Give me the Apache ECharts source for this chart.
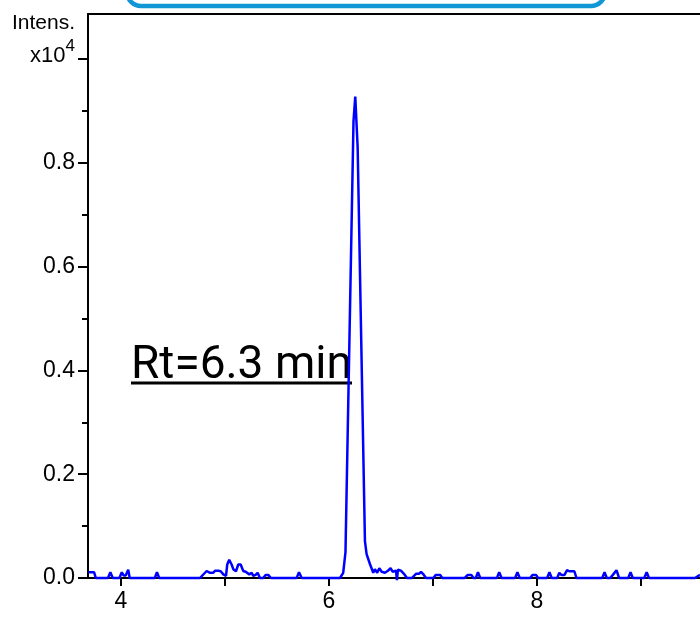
<!DOCTYPE html>
<html><head><meta charset="utf-8">
<script src="https://cdn.jsdelivr.net/npm/echarts@6/dist/echarts.min.js"></script>
<style>html,body{margin:0;padding:0;background:#fff}#c{width:700px;height:617px}</style>
</head><body><div id="c"></div>
<script>
// Retention time (min)
const retentionTime = [3.687,3.742,3.758,3.875,3.898,3.921,3.985,4.008,4.025,4.045,4.07,4.084,4.325,4.346,4.368,
4.760,4.824,4.839,4.856,4.872,4.888,4.904,4.936,4.959,4.984,5.010,5.022,5.041,5.064,5.080,5.106,5.128,5.151,5.176,
5.199,5.214,5.234,5.257,5.272,5.295,5.314,5.337,5.368,5.391,5.416,5.442,5.689,5.712,5.738,
6.106,6.137,6.159,6.236,6.253,6.276,6.346,6.362,6.394,6.426,6.442,6.464,6.484,6.507,6.538,6.567,6.593,6.612,6.625,
6.644,6.654,6.663,6.692,6.721,6.750,6.798,6.837,6.865,6.885,6.904,6.933,7.004,7.026,7.069,7.090,7.305,7.335,7.369,
7.390,7.412,7.433,7.455,7.615,7.637,7.660,7.790,7.812,7.835,7.935,7.957,7.991,8.012,8.098,8.120,8.142,8.195,8.215,
8.235,8.265,8.290,8.310,8.360,8.380,8.628,8.650,8.672,8.705,8.730,8.765,8.790,8.878,8.900,8.922,9.032,9.055,9.078,
9.520,9.568];
// Intensity (x10^4)
const intensity = [0.011,0.011,0,0,0.011,0,0,0.011,0.005,0.005,0.016,0,0,0.011,0,
0,0.0135,0.017,0.010,0.013,0.010,0.014,0.014,0.013,0.007,0.004,0.026,0.035,0.026,0.017,0.013,0.026,0.026,0.0135,
0.012,0.0135,0.007,0.010,0.004,0.006,0.010,0,0,0.006,0.006,0,0,0.011,0,
0,0.010,0.050,0.880,0.928,0.830,0.071,0.046,0.027,0.010,0.017,0.010,0.019,0.012,0.010,0.014,0.019,0.012,0.010,
0.014,-0.004,0.016,0.014,0.008,0,0,0.008,0.008,0.012,0.008,0,0,0.006,0.006,0,0,0.006,0.006,
0,0,0.011,0,0,0.011,0,0,0.011,0,0,0.006,0.006,0,0,0.011,0,0,0.010,
0.006,0.006,0.015,0.013,0.013,0,0,0.011,0,0,0.006,0.015,0,0,0.011,0,0,0.011,0,
0,0.006];
const xTicks = [4,5,6,7,8,9];
const xTickLabels = [4,6,8];
const yMajorTicks = [0,0.2,0.4,0.6,0.8,1.0];
const yMinorTicks = [0.1,0.3,0.5,0.7,0.9];
const yTickLabels = [0,0.2,0.4,0.6,0.8,1.0];
const yTitle = 'Intens.';
const annotation = 'Rt=6.3 min';

const NARROW = "'Liberation Sans Narrow','Arial Narrow','Liberation Sans',sans-serif";
const chart = echarts.init(document.getElementById('c'), null, {renderer:'canvas'});
const xMin = 3.683, xMax = 9.568, yMin = 0, yMax = 1.087;
const axisLine = {show:true, onZero:false, lineStyle:{color:'#000', width:2}};
chart.setOption({
  animation:false,
  backgroundColor:'#fff',
  grid:{left:88, top:14, right:0, bottom:39},
  xAxis:[
    {type:'value', min:xMin, max:xMax, position:'bottom', axisLine:axisLine,
     axisTick:{show:true, customValues:xTicks, length:8, lineStyle:{color:'#000', width:2}},
     axisLabel:{customValues:xTickLabels, margin:12, fontSize:23, color:'#000', fontFamily:NARROW},
     splitLine:{show:false}},
    {type:'value', min:xMin, max:xMax, position:'top', axisLine:axisLine,
     axisTick:{show:false}, axisLabel:{show:false}, splitLine:{show:false}}
  ],
  yAxis:[
    {type:'value', min:yMin, max:yMax, position:'left', axisLine:axisLine,
     axisTick:{show:true, customValues:yMajorTicks, length:10, lineStyle:{color:'#000', width:2}},
     axisLabel:{customValues:yTickLabels, margin:13, fontSize:23, color:'#000', fontFamily:NARROW,
       formatter:v => Math.abs(v-1) < 1e-9 ? '{b|x10}{s|4}' : v.toFixed(1),
       rich:{b:{fontSize:22, fontFamily:NARROW, color:'#000', padding:[0,0,6,0]},
             s:{fontSize:17, fontFamily:NARROW, color:'#000', padding:[0,0,26,0]}}},
     splitLine:{show:false}},
    {type:'value', min:yMin, max:yMax, position:'left', axisLine:{show:false},
     axisTick:{show:true, customValues:yMinorTicks, length:6, lineStyle:{color:'#000', width:2}},
     axisLabel:{show:false}, splitLine:{show:false}}
  ],
  series:[{
    type:'line', xAxisIndex:0, yAxisIndex:0, showSymbol:false, clip:false,
    data: retentionTime.map((t,i)=>[t, intensity[i]]),
    lineStyle:{color:'#0000ff', width:2.5}, z:3
  }],
  graphic:[
    {type:'rect', shape:{x:127, y:-40, width:478, height:46, r:14},
     style:{fill:'#fff', stroke:'#1196d6', lineWidth:4.5}, z:10},
    {type:'text', style:{x:75, y:23, text:yTitle, align:'right', verticalAlign:'middle',
      font:"21px 'Liberation Sans Narrow','Arial Narrow','Liberation Sans',sans-serif", fill:'#000'}},
    {type:'text', style:{x:131, y:366, text:annotation, align:'left', verticalAlign:'middle',
      font:"46px Roboto, 'Noto Sans', sans-serif", fill:'#000'}, z:1},
    {type:'line', shape:{x1:131, y1:383, x2:352, y2:383}, style:{stroke:'#000', lineWidth:3}, z:1}
  ]
});
</script></body></html>
